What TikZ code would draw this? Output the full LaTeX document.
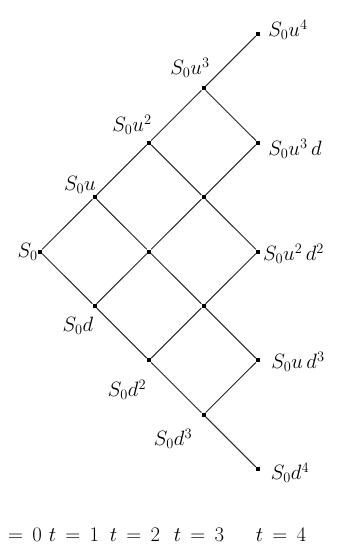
\documentclass[tikz,border=0pt]{standalone}
\usepackage{amsmath}
\usepackage{tikz}
\usetikzlibrary{positioning}

\tikzset{
  pt/.style={fill=black,inner sep=0pt,minimum size=4pt},
  lbl/.style={font=\fontsize{21}{23}\selectfont,inner sep=0pt},
  tlbl/.style={font=\fontsize{20}{22}\selectfont,inner sep=0pt},
  br/.style={line width=1pt,black!85}
}

\begin{document}
\begin{tikzpicture}[x=1pt,y=-1pt]
        \useasboundingbox (0,0) rectangle (338,548);
        % lattice points
        \foreach \i in {0,...,4}{\foreach \k in {0,...,\i}{\node[pt] (n\i\k) at ({40+54.5*\i},{251.5-54.4*(2*\k-\i)}) {};}}
        % branches
        \foreach \i in {0,...,3}{\foreach \k in {0,...,\i}{\pgfmathtruncatemacro{\j}{\i+1}\pgfmathtruncatemacro{\kk}{\k+1}
            \draw[br] (n\i\k) -- (n\j\k); \draw[br] (n\i\k) -- (n\j\kk);}}
        % prices
        \node[lbl,anchor=east] (s0) at (n00.west) {$S_0$};
        \node[lbl] (su1) at (80,185) {$S_0u$};
        \node[lbl] (su2) at (132,125) {$S_0u^2$};
        \node[lbl] (su3) at (190,68) {$S_0u^3$};
        \node[lbl] (su4) at (288,30) {$S_0u^4$};
        \node[lbl] (su3d) at (295,149) {$S_0u^3\,d$};
        \node[lbl,anchor=west] (su2d2) at (263,254) {$S_0u^2\,d^2$};
        \node[lbl] (sud3) at (298,362) {$S_0u\,d^3$};
        \node[lbl] (sd4) at (290,473) {$S_0d^4$};
        \node[lbl] (sd1) at (78,326) {$S_0d$};
        \node[lbl] (sd2) at (127,390) {$S_0d^2$};
        \node[lbl] (sd3) at (173,439) {$S_0d^3$};
        % time axis
        \node[tlbl,anchor=east] (t0) at (42,535) {$t\,=\,0$};
        \node[tlbl] (t1) at (74,535) {$t\,=\,1$};
        \node[tlbl] (t2) at (135,535) {$t\,=\,2$};
        \node[tlbl] (t3) at (199,535) {$t\,=\,3$};
        \node[tlbl] (t4) at (281,535) {$t\,=\,4$};
    \end{tikzpicture}
\end{document}
